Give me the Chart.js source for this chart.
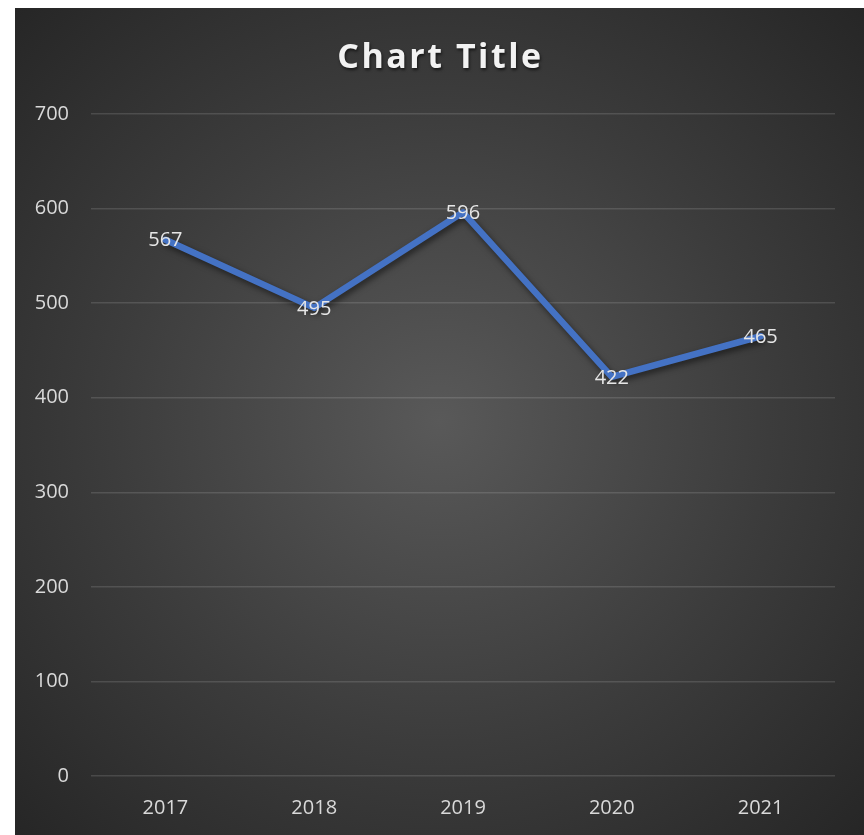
<!DOCTYPE html>
<html>
<head>
<meta charset="utf-8">
<script src="https://cdn.jsdelivr.net/npm/chart.js@4/dist/chart.umd.min.js"></script>
<style>
  body { margin: 0; background: #fff; }
  #wrap {
    position: absolute; left: 15px; top: 8px; width: 849px; height: 827px;
    background: radial-gradient(ellipse farthest-corner at 50% 50%, #595959 0%, #3c3c3c 55%, #262626 100%);
  }
</style>
</head>
<body>
<div id="wrap"><canvas id="chart" width="849" height="827"></canvas></div>
<script>
var years = ['2017', '2018', '2019', '2020', '2021']
var values = [567, 495, 596, 422, 465]
var y_ticks = [0, 100, 200, 300, 400, 500, 600, 700]
var title_text = 'Chart Title'

var font_family = '"Open Sans", "Noto Sans", sans-serif'

// shadow under the line
var line_shadow = {
    id: 'line_shadow',
    beforeDatasetDraw: function (chart) {
        var ctx = chart.ctx
        ctx.save()
        ctx.shadowColor = 'rgba(0, 0, 0, 0.55)'
        ctx.shadowBlur = 6
        ctx.shadowOffsetX = 2
        ctx.shadowOffsetY = 3
    },
    afterDatasetDraw: function (chart) {
        chart.ctx.restore()
    }
}

// value labels centred on the points
var value_labels = {
    id: 'value_labels',
    afterDatasetsDraw: function (chart) {
        var ctx = chart.ctx
        var meta = chart.getDatasetMeta(0)
        ctx.save()
        ctx.font = '20px ' + font_family
        ctx.fillStyle = '#e6e6e6'
        ctx.textAlign = 'center'
        ctx.textBaseline = 'middle'
        meta.data.forEach(function (pt, i) {
            ctx.fillText(String(values[i]), pt.x, pt.y + 1)
        })
        ctx.restore()
    }
}

// title with letter spacing
var spaced_title = {
    id: 'spaced_title',
    afterDraw: function (chart) {
        var ctx = chart.ctx
        ctx.save()
        ctx.font = 'bold 34px ' + font_family
        ctx.letterSpacing = '2.5px'
        ctx.fillStyle = '#f2f2f2'
        ctx.textAlign = 'center'
        ctx.textBaseline = 'middle'
        ctx.shadowColor = 'rgba(0, 0, 0, 0.6)'
        ctx.shadowBlur = 3
        ctx.shadowOffsetX = 1
        ctx.shadowOffsetY = 2
        ctx.fillText(title_text, chart.width / 2 + 1, 50)
        ctx.restore()
    }
}

const ctx = document.getElementById('chart').getContext('2d')
const myChart = new Chart(ctx, {
    type: 'line',
    data: {
        labels: years,
        datasets: [{
            label: 'Series1',
            data: values,
            borderColor: '#4472c4',
            backgroundColor: '#4472c4',
            borderWidth: 6.5,
            pointRadius: 0,
            pointHoverRadius: 0,
            tension: 0,
            borderJoinStyle: 'round',
            borderCapStyle: 'round'
        }]
    },
    options: {
        responsive: false,
        animation: false,
        layout: { padding: { top: 106, right: 29, bottom: 0, left: 0 } },
        plugins: {
            legend: { display: false },
            title: { display: false },
            tooltip: { enabled: false }
        },
        scales: {
            x: {
                offset: true,
                grid: { display: false, drawTicks: false },
                border: { display: false },
                ticks: { color: '#d9d9d9', font: { family: font_family, size: 20 }, padding: 20 },
                afterFit: function (scale) { scale.height = 59 }
            },
            y: {
                min: 0,
                max: 700,
                afterBuildTicks: function (scale) {
                    scale.ticks = y_ticks.map(function (v) { return { value: v } })
                },
                grid: { color: 'rgba(255, 255, 255, 0.13)', lineWidth: 1.5, drawTicks: false },
                border: { display: false },
                ticks: { color: '#d9d9d9', font: { family: font_family, size: 20 }, padding: 22 },
                afterFit: function (scale) { scale.width = 76 }
            }
        }
    },
    plugins: [line_shadow, value_labels, spaced_title]
});
</script>
</body>
</html>
